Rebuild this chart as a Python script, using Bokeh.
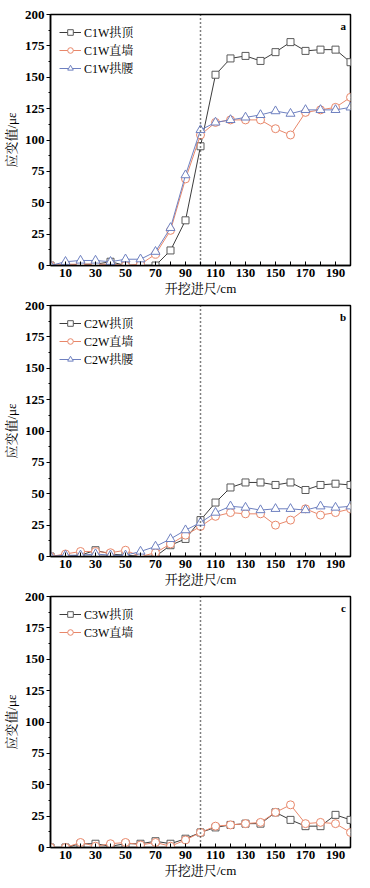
from bokeh.plotting import figure
from bokeh.layouts import column
from bokeh.models import FixedTicker, Span, Label, Legend, LegendItem, Range1d
from bokeh.embed import file_html
from bokeh.resources import INLINE

# ---- data ----
x_cm = [0, 10, 20, 30, 40, 50, 60, 70, 80, 90, 100, 110, 120, 130, 140, 150, 160, 170, 180, 190, 200]

c1w_crown = [0, 0, 1, 1, 3, 0, 0, 0, 12, 36, 95, 152, 165, 167, 163, 170, 178, 171, 172, 172, 162]
c1w_wall = [0, 1, 1, 1, 1, 0, 1, 9, 28, 69, 104, 114, 116, 116, 116, 109, 104, 122, 124, 126, 134]
c1w_haunch = [0, 3, 4, 4, 3, 5, 5, 11, 30, 72, 108, 114, 116, 118, 120, 123, 121, 124, 124, 124, 126]

c2w_crown = [0, 0, 1, 5, 2, 1, 0, 0, 9, 14, 29, 43, 55, 59, 59, 57, 59, 53, 57, 58, 57]
c2w_wall = [0, 2, 4, 4, 3, 5, 0, 3, 10, 17, 24, 32, 35, 34, 34, 25, 29, 38, 33, 35, 38]
c2w_haunch = [0, 1, 1, 2, 1, 1, 4, 8, 14, 21, 27, 35, 40, 39, 37, 38, 38, 37, 40, 39, 40]

c3w_crown = [0, 0, 3, 3, 1, 3, 3, 5, 3, 7, 12, 16, 18, 19, 19, 28, 22, 17, 17, 26, 22]
c3w_wall = [0, 0, 4, 1, 3, 4, 2, 4, 1, 6, 12, 17, 18, 19, 20, 28, 34, 19, 20, 19, 12]

x_major_ticks = [10, 30, 50, 70, 90, 110, 130, 150, 170, 190]
x_minor_ticks = [20, 40, 60, 80, 100, 120, 140, 160, 180, 200]
y_major_ticks = [0, 25, 50, 75, 100, 125, 150, 175, 200]
y_minor_ticks = [12.5, 37.5, 62.5, 87.5, 112.5, 137.5, 162.5, 187.5]

x_label = "开挖进尺/cm"
y_label = "应变值/με"
face_line = 100

SERIF = "'Liberation Serif', 'Noto Serif CJK SC', 'Noto Sans CJK SC', serif"

BLACK = "#3c3c3c"
BLACK_M = "#5a5a5a"
ORANGE = "#e8876a"
BLUE = "#6e80c0"


def make_panel(series, letter, top):
    p = figure(output_backend="svg", toolbar_location=None,
               frame_width=300, frame_height=251,
               min_border_left=42, min_border_right=12,
               min_border_top=top, min_border_bottom=33,
               x_range=Range1d(0, 200), y_range=Range1d(0, 200),
               background_fill_color="white", border_fill_color="white")
    p.grid.visible = False
    p.outline_line_color = "black"
    p.outline_line_width = 1.5

    p.xaxis.ticker = FixedTicker(ticks=x_major_ticks, minor_ticks=x_minor_ticks)
    p.yaxis.ticker = FixedTicker(ticks=y_major_ticks, minor_ticks=y_minor_ticks)
    for ax in (p.xaxis, p.yaxis):
        ax.axis_line_width = 1.5
        ax.axis_line_color = "black"
        ax.major_tick_line_color = "black"
        ax.minor_tick_line_color = "black"
        ax.major_label_text_font = SERIF
        ax.major_label_text_font_style = "bold"
        ax.major_label_text_font_size = "13px"
        ax.major_label_text_color = "black"
        ax.axis_label_text_font = SERIF
        ax.axis_label_text_font_style = "normal"
        ax.axis_label_text_font_size = "13px"
        ax.axis_label_text_color = "black"
    p.xaxis.major_tick_in = 4
    p.xaxis.major_tick_out = 0
    p.xaxis.minor_tick_in = 4
    p.xaxis.minor_tick_out = 0
    p.xaxis.major_label_standoff = 3
    p.xaxis.axis_label_standoff = 1
    p.xaxis.axis_label = x_label
    p.yaxis.major_tick_in = 0
    p.yaxis.major_tick_out = 4
    p.yaxis.minor_tick_in = 0
    p.yaxis.minor_tick_out = 2
    p.yaxis.major_label_standoff = 2
    p.yaxis.axis_label_standoff = 3
    p.yaxis.axis_label = y_label

    p.add_layout(Span(location=face_line, dimension="height", line_color="black",
                      line_dash="1 3", line_width=1.5))

    items = []
    for name, ys, color, mcolor, marker, size in series:
        r1 = p.line(x_cm, ys, line_color=color, line_width=1)
        r2 = p.scatter(x_cm, ys, marker=marker, size=size, line_color=mcolor,
                       fill_color="white", line_width=1)
        items.append(LegendItem(label=name, renderers=[r1, r2]))

    leg = Legend(items=items, location="top_left", margin=3, padding=6,
                 spacing=0, glyph_width=22, glyph_height=14, label_height=14,
                 label_standoff=3, border_line_alpha=0, background_fill_alpha=0,
                 label_text_font=SERIF, label_text_font_size="12px",
                 label_text_color="black")
    p.add_layout(leg)

    p.add_layout(Label(x=197, y=196, text=letter, text_align="right",
                       text_baseline="top", text_font=SERIF,
                       text_font_style="bold", text_font_size="11px",
                       text_color="black"))
    return p


pa = make_panel([
    ("C1W拱顶", c1w_crown, BLACK, BLACK_M, "square", 7),
    ("C1W直墙", c1w_wall, ORANGE, ORANGE, "circle", 8),
    ("C1W拱腰", c1w_haunch, BLUE, BLUE, "triangle", 9),
], "a", 14)
pb = make_panel([
    ("C2W拱顶", c2w_crown, BLACK, BLACK_M, "square", 7),
    ("C2W直墙", c2w_wall, ORANGE, ORANGE, "circle", 8),
    ("C2W拱腰", c2w_haunch, BLUE, BLUE, "triangle", 9),
], "b", 7)
pc = make_panel([
    ("C3W拱顶", c3w_crown, BLACK, BLACK_M, "square", 7),
    ("C3W直墙", c3w_wall, ORANGE, ORANGE, "circle", 8),
], "c", 7)

layout = column(pa, pb, pc, spacing=0)
open("out.html", "w").write(file_html(layout, INLINE))
